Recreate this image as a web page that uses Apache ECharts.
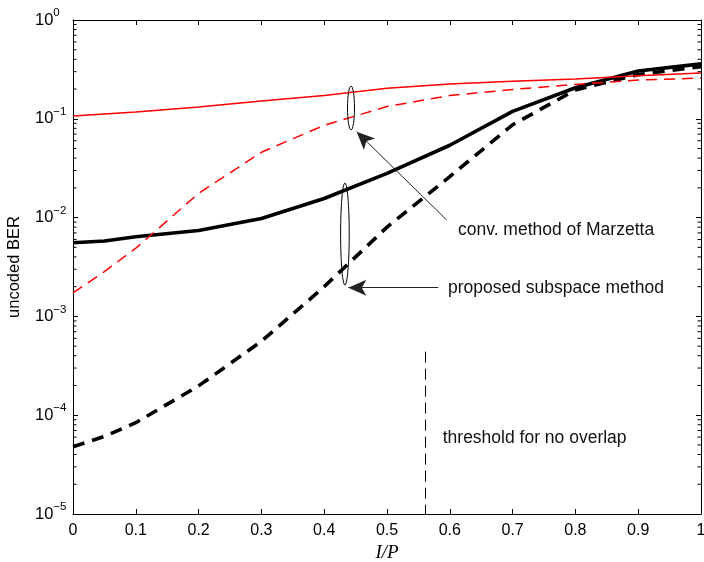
<!DOCTYPE html>
<html><head><meta charset="utf-8">
<script src="https://cdn.jsdelivr.net/npm/echarts@6/dist/echarts.min.js"></script>
<style>html,body{margin:0;padding:0;background:#fff}#c{width:704px;height:562px}</style>
</head><body><div id="c"></div>
<script>
// ---- data ----
const xValues    = [0, 0.05, 0.1, 0.2, 0.3, 0.4, 0.5, 0.6, 0.7, 0.8, 0.9, 1.0];
const convSolid  = [0.107, 0.112, 0.117, 0.132, 0.151, 0.172, 0.204, 0.225, 0.240, 0.253, 0.272, 0.290];
const convDashed = [0.00173, 0.00284, 0.0049, 0.0176, 0.0458, 0.086, 0.133, 0.172, 0.198, 0.223, 0.247, 0.258];
const subSolid   = [0.00557, 0.0058, 0.0064, 0.0074, 0.0098, 0.0156, 0.028, 0.054, 0.119, 0.206, 0.305, 0.360];
const subDashed  = [4.8e-5, 6.1e-5, 8.4e-5, 1.98e-4, 5.6e-4, 0.0020, 0.0080, 0.026, 0.087, 0.196, 0.280, 0.337];
const xTickLabels = ['0','0.1','0.2','0.3','0.4','0.5','0.6','0.7','0.8','0.9','1'];
const yTickExponents = ['0','\u22121','\u22122','\u22123','\u22124','\u22125'];
const minorMantissas = [2, 3, 4, 5, 6, 7, 8, 9];
const decades = [1e-5, 1e-4, 1e-3, 1e-2, 1e-1];
const thresholdX = 0.5616;
const thresholdTop = 4.4e-4;
const noteTexts = ['conv. method of Marzetta', 'proposed subspace method', 'threshold for no overlap'];
const noteTextAnchors = [[0.613, 0.00748], [0.597, 0.00192], [0.5887, 5.88e-5]];
const arrowConv = [[0.595, 0.00946], [0.4517, 0.074]];
const arrowSub  = [[0.5817, 0.00195], [0.4384, 0.00195]];
const ellipseCenters = [[0.4427, 0.1286], [0.433, 0.00682]];

const FONT = 'Liberation Sans';
const chart = echarts.init(document.getElementById('c'));
const pairs = arr => xValues.map((x, i) => [x, arr[i]]);
const minorVals = [];
decades.forEach(d => minorMantissas.forEach(m => minorVals.push(+(m * d).toPrecision(3))));

const axisLine = {show: true, onZero: false, lineStyle: {color: '#000', width: 1}};
const yBase = {type: 'log', logBase: 10, min: 1e-5, max: 1, splitLine: {show: false}};
const MINOR_LEN = 3.5;

const option = {
  animation: false,
  backgroundColor: '#fff',
  grid: {left: 73, right: 3, top: 20, bottom: 48, containLabel: false, outerBoundsMode: 'none'},
  xAxis: [
    {type: 'value', min: 0, max: 1, interval: 0.1, position: 'bottom',
     axisLine: axisLine,
     axisTick: {show: true, inside: true, length: 5, lineStyle: {color: '#000'}},
     axisLabel: {color: '#000', fontFamily: FONT, fontSize: 16, margin: 9,
                 formatter: v => xTickLabels[Math.round(v * 10)]},
     splitLine: {show: false},
     name: 'I/P', nameLocation: 'middle', nameGap: 29,
     nameTextStyle: {fontFamily: 'Liberation Serif', fontStyle: 'italic', fontSize: 19, color: '#000'}},
    {type: 'value', min: 0, max: 1, interval: 0.1, position: 'top',
     axisLine: axisLine,
     axisTick: {show: true, inside: true, length: 5, lineStyle: {color: '#000'}},
     axisLabel: {show: false}, splitLine: {show: false}}
  ],
  yAxis: [
    Object.assign({}, yBase, {position: 'left', axisLine: axisLine,
     axisTick: {show: true, inside: true, length: 5, lineStyle: {color: '#000'}},
     axisLabel: {color: '#000', fontFamily: FONT, fontSize: 16.5, align: 'left', margin: 38,
       formatter: v => '10{sup|' + yTickExponents[-Math.round(Math.log10(v))] + '}',
       rich: {sup: {fontSize: 11.5, fontFamily: FONT, color: '#000', padding: [0, 0, 14, 0]}}},
     name: 'uncoded BER', nameLocation: 'middle', nameGap: 50, nameRotate: 90,
     nameTextStyle: {fontFamily: FONT, fontSize: 16.5, color: '#000'}}),
    Object.assign({}, yBase, {position: 'right', axisLine: axisLine,
     axisTick: {show: true, inside: true, length: 5, lineStyle: {color: '#000'}},
     axisLabel: {show: false}})
  ],
  series: [
    {name: 'minor-ticks', type: 'custom', silent: true, clip: false, z: 5,
     data: minorVals.map(v => [0, v]),
     renderItem: (params, api) => {
       const v = api.value(1);
       const l = api.coord([0, v]);
       const r = api.coord([1, v]);
       const st = {stroke: '#000', lineWidth: 1};
       return {type: 'group', children: [
         {type: 'line', shape: {x1: l[0], y1: l[1], x2: l[0] + MINOR_LEN, y2: l[1]}, style: st},
         {type: 'line', shape: {x1: r[0] - MINOR_LEN, y1: r[1], x2: r[0], y2: r[1]}, style: st}
       ]};
     }},
    {name: 'subspace-solid', type: 'line', data: pairs(subSolid), symbol: 'none', smooth: false,
     lineStyle: {color: '#000', width: 3.6}, z: 2,
     markLine: {silent: true, symbol: ['none', 'none'], label: {show: false},
       lineStyle: {color: '#000', width: 1, type: [11, 6]},
       data: [[{coord: [thresholdX, thresholdTop]}, {coord: [thresholdX, 1e-5]}]]}},
    {name: 'subspace-dashed', type: 'line', data: pairs(subDashed), symbol: 'none', smooth: false,
     lineStyle: {color: '#000', width: 3.6, type: [12, 8]}, z: 2},
    {name: 'conv-solid', type: 'line', data: pairs(convSolid), symbol: 'none', smooth: false,
     lineStyle: {color: '#ff0000', width: 1.5}, z: 3},
    {name: 'conv-dashed', type: 'line', data: pairs(convDashed), symbol: 'none', smooth: false,
     lineStyle: {color: '#ff0000', width: 1.5, type: [11, 7]}, z: 3,
     markLine: {silent: true, label: {show: false}, lineStyle: {color: '#222', width: 1, type: 'solid'},
       data: [
         [{coord: arrowConv[0], symbol: 'none'}, {coord: arrowConv[1], symbol: 'arrow', symbolSize: [12, 18]}],
         [{coord: arrowSub[0], symbol: 'none'}, {coord: arrowSub[1], symbol: 'arrow', symbolSize: [12, 18]}]
       ]}}
  ]
};
chart.setOption(option);

const px = p => chart.convertToPixel({xAxisIndex: 0, yAxisIndex: 0}, p);
const ellipseRadii = [[3.5, 22], [4.3, 51]];
const graphics = [];
ellipseCenters.forEach((c, i) => {
  const p = px(c);
  graphics.push({type: 'ellipse', silent: true, z: 10,
    shape: {cx: p[0], cy: p[1], rx: ellipseRadii[i][0], ry: ellipseRadii[i][1]},
    style: {fill: 'none', stroke: '#000', lineWidth: 1}});
});
noteTexts.forEach((t, i) => {
  const p = px(noteTextAnchors[i]);
  graphics.push({type: 'text', silent: true, z: 10, x: p[0], y: p[1],
    style: {text: t, font: '17.5px "Liberation Sans"', fill: '#111', align: 'left', verticalAlign: 'middle'}});
});
chart.setOption({graphic: graphics});
</script></body></html>
